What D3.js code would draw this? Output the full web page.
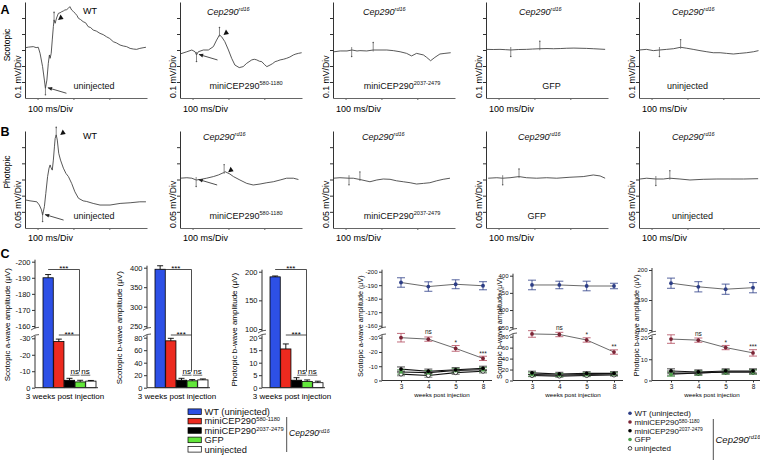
<!DOCTYPE html>
<html>
<head>
<meta charset="utf-8">
<script src="https://cdnjs.cloudflare.com/ajax/libs/d3/7.8.5/d3.min.js"></script>
<style>
  body { margin: 0; background: #fff; }
</style>
</head>
<body>
<svg id="chart"></svg>
<script>
// ---------- ERG traces: [ms, µV] ----------
const scotopicWT = [[-35,14],[-25,18],[-12,21],[-4,15],[2,17],[7,-21],[14,-104],[19,-188],[22,-239],[26,-188],[30,-83],[33,-31],[35,-52],[38,-21],[41,63],[44,146],[46,188],[49,167],[53,200],[58,229],[63,233],[67,239],[72,244],[76,250],[81,252],[86,261],[90,271],[95,250],[100,240],[105,229],[110,215],[114,198],[120,190],[127,177],[134,170],[141,146],[148,140],[155,125],[164,118],[174,104],[183,96],[192,83],[201,72],[211,52],[220,44],[230,31],[239,25],[248,21],[258,10],[267,6],[276,4],[285,10],[294,14],[302,17]];
const scotopic580 = [[-35,-25],[-16,-11],[-2,0],[7,-11],[11,-31],[16,-11],[30,0],[44,0],[58,21],[67,62],[75,94],[81,83],[90,52],[100,0],[109,-52],[118,-94],[130,-110],[141,-104],[151,-83],[165,-62],[172,-58],[179,-62],[186,-70],[193,-73],[200,-90],[207,-104],[216,-94],[223,-85],[230,-73],[237,-68],[244,-62],[253,-58],[262,-52],[271,-44],[281,-31],[288,-25],[295,-21],[304,-17]];
const scotopic2037 = [[-35,-12],[-15,-6],[4,-6],[18,0],[32,-6],[40,-4],[59,-6],[77,0],[96,0],[115,0],[133,-4],[152,-11],[170,-21],[184,-37],[198,-21],[217,-31],[226,-46],[237,-67],[249,-46],[263,-25],[277,-21],[293,-17]];
const scotopicGFP = [[-35,4],[-15,3],[4,4],[20,2],[34,0],[55,3],[78,4],[95,6],[115,8],[135,9],[153,8],[172,9],[190,11],[210,12],[227,11],[245,10],[264,8],[280,6],[297,4]];
const scotopicUninj = [[-35,0],[-14,4],[5,-4],[22,0],[42,4],[61,8],[81,17],[98,11],[116,4],[135,-4],[154,-11],[172,-17],[191,-17],[209,-21],[228,-25],[246,-21],[265,-17],[284,-11],[298,-4]];

const photopicWT = [[-35,-63],[-21,-66],[-2,-69],[5,-79],[11,-94],[14,-110],[19,-84],[23,-43],[28,9],[32,35],[35,45],[37,38],[41,29],[44,60],[47,101],[49,127],[52,138],[55,122],[59,81],[64,60],[72,35],[79,19],[86,9],[95,-12],[104,-38],[114,-58],[127,-66],[137,-68],[155,-74],[174,-79],[202,-79],[230,-74],[258,-72],[285,-69],[302,-69]];
const photopic580 = [[-35,4],[-16,5.5],[-2,4],[10,-1.5],[21,0],[39,4],[58,9],[72,14],[86,21],[91,24],[104,17],[114,9],[132,-1.5],[151,-12],[169,-17],[188,-14],[207,-10],[225,-7],[244,-1.5],[262,4],[281,4],[295,0]];
const photopic2037 = [[-34,4],[-15.5,5.5],[9.6,4],[21.6,4],[40,0],[68,-7],[87,-1.5],[105,1.5],[124,0.6],[142,-4],[161,-7],[180,-10],[198,-14],[217,-12],[235,-10],[254,-4],[272,0.6],[291,4]];
const photopicGFP = [[-29,4],[-5,5.5],[11.5,4],[32,5.5],[57,9],[78,5.5],[106,4],[134,5.5],[162,4],[199,7],[236,9],[264,14],[283,11],[297,4]];
const photopicUninj = [[-32,1.5],[-13.5,4],[12,1.5],[33,1.5],[51,4],[79,1.5],[107,-1.5],[144,0.6],[182,1.5],[219,1.5],[256,1.5],[297,2.5]];

const scotopicTraces = [scotopicWT, scotopic580, scotopic2037, scotopicGFP, scotopicUninj];
const photopicTraces = [photopicWT, photopic580, photopic2037, photopicGFP, photopicUninj];
// a-wave and b-wave marker times (ms)
const scotopicMarks = [[22,46],[11,75],[17,77],[34,115],[22,81]];
const photopicMarks = [[14,52],[10,88],[9.6,40],[11.5,57],[12,51]];
const scotopicTicks = [-200,-100,0,100,200];
const photopicTicks = [-100,-50,0,50,100];
const msTicks = [0,100,200];
const msDomain = [-35,305];

const traceLabels = ['uninjected','miniCEP290','miniCEP290','GFP','uninjected'];
const traceSups = ['','580-1180','2037-2479','',''];
const arrowPanels = [0,1];

// ---------- bar charts (3 weeks) ----------
const groups = ['WT (uninjected)','miniCEP290 580-1180','miniCEP290 2037-2479','GFP','uninjected'];
const groupNames = ['WT (uninjected)','miniCEP290','miniCEP290','GFP','uninjected'];
const groupSups = ['','580-1180','2037-2479','',''];

const barScotA = [-190,-28,-4.5,-3.5,-4];
const barScotAErr = [2,1.5,1.2,1,0.4];
const barScotB = [396,75,12,11,12.5];
const barScotBErr = [9,4,3,2,1.5];
const barPhotB = [191,15.5,3,2.5,2];
const barPhotBErr = [1.5,2,1,0.6,0.6];

const barTicksScotAUp = [-200,-190,-180,-170,-160];
const barTicksScotALo = [-30,-20,-10,0];
const barTicksScotBUp = [400,350,300,250];
const barTicksScotBLo = [80,60,40,20,0];
const barTicksPhotBUp = [200,150,100];
const barTicksPhotBLo = [20,15,10,5,0];

// ---------- time course ----------
const weeks = ['3','4','5','8'];
const lineScotA = [[-192,-189,-190.7,-189.6],[-30,-29,-22.5,-15.5],[-8,-6.5,-7.5,-8.5],[-6,-5.5,-7,-7.5],[-4.5,-3.5,-5.5,-6.5]];
const lineScotAErr = [[3.5,3.5,3.3,3],[3,1.5,2,1.5],[1.5,1.5,1.5,1.5],[1.5,1.5,1.5,1.5],[1.2,1.2,1.2,1.2]];
const lineScotASig = ['','ns','*','***'];
const lineScotB = [[373,373,370,370],[85,84,74,52],[14,12,13,13],[11,10,11,12],[9,8,9,10]];
const lineScotBErr = [[14,11,14,8],[6,4,4,4],[3,3,3,3],[3,3,3,3],[2,2,2,2]];
const lineScotBSig = ['','ns','*','**'];
const linePhotB = [[195.6,194.4,193.6,194.1],[19.5,19,15.5,13],[4.5,4,4.5,4.5],[3,3.5,4,4],[3.5,3.5,4,4]];
const linePhotBErr = [[1.7,1.7,1.7,1.7],[2,1,1,1.5],[1,1,1,1],[1,1,1,1],[1,1,1,1]];
const linePhotBSig = ['','ns','*','***'];

const lineTicksScotAUp = [-200,-190,-180,-170,-160];
const lineTicksScotALo = [-30,-20,-10,0];
const lineTicksScotBUp = [400,350,300,250];
const lineTicksScotBLo = [80,60,40,20,0];
const lineTicksPhotBUp = [200,190,180];
const lineTicksPhotBLo = [20,10,0];

// ---------- styles ----------
const FONT = '"Liberation Sans", Arial, Helvetica, sans-serif';
const barFill = ['#2d50e6','#ec2a1f','#000000','#62e63a','#ffffff'];
const pointFill = ['#2c3d86','#7c2435','#000000','#4da04a','#ffffff'];
const errColor = ['#2c3d86','#b0485a','#222222','#3c8a3c','#555555'];

const svg = d3.select('#chart').attr('width', 760).attr('height', 461).attr('font-family', FONT);

svg.append('defs').append('marker')
  .attr('id', 'arr').attr('viewBox', '0 0 6 6').attr('refX', 5.5).attr('refY', 3)
  .attr('markerWidth', 5).attr('markerHeight', 4.5).attr('markerUnits', 'userSpaceOnUse').attr('orient', 'auto')
  .append('path').attr('d', 'M0,0.5L6,3L0,5.5Z').attr('fill', '#222');

function richText(parent, x, y, base, sup, size, opts = {}) {
  const t = parent.append('text').attr('x', x).attr('y', y).attr('font-size', size).attr('fill', '#111');
  if (opts.anchor) t.attr('text-anchor', opts.anchor);
  if (opts.italic) t.attr('font-style', 'italic');
  t.append('tspan').text(base);
  if (sup) t.append('tspan').attr('dy', -size * (opts.supRise || 0.4)).attr('font-size', size * 0.62).text(sup);
  return t;
}

function valueAt(tr, t) {
  const i = d3.bisector(d => d[0]).left(tr, t);
  if (i <= 0) return tr[0][1];
  if (i >= tr.length) return tr[tr.length - 1][1];
  const a = tr[i - 1], b = tr[i];
  return a[1] + (b[1] - a[1]) * (t - a[0]) / (b[0] - a[0]);
}

// ================= panels A & B =================
const PW = 122;
const traceLefts = [25,180,333,486,639];
const rowSpecs = [
  { traces: scotopicTraces, marks: scotopicMarks, domain: [-300,300], ticks: scotopicTicks, top: 2, bottom: 98,
    ylab: '0.1 mV/Div', side: 'Scotopic', sideY: 45, letter: 'A', letterY: 14, titleY: 15, labelY: 89, msY: 112,
    titleX: [65,27,30,33,33], labelX: [69,66,69,65.5,48.5] },
  { traces: photopicTraces, marks: photopicMarks, domain: [-150,150], ticks: photopicTicks, top: 131, bottom: 228,
    ylab: '0.05 mV/Div', side: 'Photopic', sideY: 172, letter: 'B', letterY: 136, titleY: 140, labelY: 219, msY: 241,
    titleX: [65,23,29,32,33], labelX: [69,66,69,50.7,53.5] }
];

rowSpecs.forEach(row => {
  svg.append('text').attr('x', 0.5).attr('y', row.letterY).attr('font-size', 12.5)
    .attr('font-weight', 'bold').text(row.letter);
  svg.append('text').attr('transform', `translate(10,${row.sideY}) rotate(-90)`)
    .attr('text-anchor', 'middle').attr('font-size', 8.5).text(row.side);

  row.traces.forEach((tr, i) => {
    const left = traceLefts[i];
    const x = d3.scaleLinear().domain(msDomain).range([left, left + PW]);
    const y = d3.scaleLinear().domain(row.domain).range([row.bottom, row.top]);
    const g = svg.append('g');

    g.append('g').attr('transform', `translate(${left},0)`)
      .call(d3.axisLeft(y).tickValues(row.ticks).tickSize(3).tickSizeOuter(0).tickFormat(''))
      .call(s => s.selectAll('path,line').attr('stroke', '#333'));
    g.append('g').attr('transform', `translate(0,${row.bottom})`)
      .call(d3.axisBottom(x).tickValues(msTicks).tickSize(2).tickSizeOuter(0).tickFormat(''))
      .call(s => s.selectAll('path,line').attr('stroke', '#666'));

    g.append('path').datum(tr)
      .attr('fill', 'none').attr('stroke', '#3a3a3a').attr('stroke-width', 0.85)
      .attr('stroke-linejoin', 'round')
      .attr('d', d3.line().x(d => x(d[0])).y(d => y(d[1])));

    // a / b wave markers
    const [ta, tb] = row.marks[i];
    const axp = x(ta), ayp = y(valueAt(tr, ta));
    const bxp = x(tb), byp = y(valueAt(tr, tb));
    g.append('line').attr('x1', axp).attr('x2', axp).attr('y1', ayp - 3).attr('y2', ayp + 6)
      .attr('stroke', '#555').attr('stroke-width', 0.7);
    g.append('circle').attr('cx', axp).attr('cy', ayp + 6.5).attr('r', 0.8).attr('fill', '#555');
    g.append('line').attr('x1', bxp).attr('x2', bxp).attr('y1', byp - 7).attr('y2', byp + 1.5)
      .attr('stroke', '#555').attr('stroke-width', 0.7);
    g.append('circle').attr('cx', bxp).attr('cy', byp - 7.5).attr('r', 0.8).attr('fill', '#555');

    if (arrowPanels.includes(i)) {
      g.append('line').attr('x1', axp + 21).attr('y1', ayp + 5).attr('x2', axp + 2.5).attr('y2', ayp - 0.5)
        .attr('stroke', '#222').attr('stroke-width', 0.8).attr('marker-end', 'url(#arr)');
      g.append('path').attr('d', 'M0,0L5.5,-1L2.5,-5.5Z').attr('fill', '#111')
        .attr('transform', `translate(${bxp + 4},${byp})`);
    }

    if (i === 0) {
      g.append('text').attr('x', left + row.titleX[0]).attr('y', row.titleY - 1.5)
        .attr('text-anchor', 'middle').attr('font-size', 9).text('WT');
    } else {
      richText(g, left + row.titleX[i], row.titleY, 'Cep290', 'rd16', 9, { italic: true });
    }
    richText(g, left + row.labelX[i], row.labelY, traceLabels[i], traceSups[i], 9, { anchor: 'middle' });
    g.append('text').attr('x', left + 3).attr('y', row.msY).attr('font-size', 9).text('100 ms/Div');
    g.append('text').attr('transform', `translate(${left - 4.5},${row.bottom}) rotate(-90)`)
      .attr('font-size', 8.7).text(row.ylab);
  });
});

// ================= panel C helpers =================
function brokenScale(up, lo, upRange, loRange) {
  const u = d3.scaleLinear().domain([up[up.length - 1], up[0]]).range(upRange);
  const l = d3.scaleLinear().domain([lo[lo.length - 1], lo[0]]).range(loRange);
  const lim = Math.abs(up[up.length - 1]);
  const f = v => Math.abs(v) >= lim ? u(v) : l(v);
  f.upper = u; f.lower = l;
  return f;
}

function drawBrokenAxis(g, f, up, lo, ax, fs) {
  const [ub, ut] = f.upper.range();
  const [lb, lt] = f.lower.range();
  [[f.upper, up], [f.lower, lo]].forEach(([sc, tv]) => {
    const a = g.append('g').attr('transform', `translate(${ax},0)`)
      .call(d3.axisLeft(sc).tickValues(tv).tickSize(3).tickPadding(1.5).tickFormat(d => String(d)));
    a.select('.domain').remove();
    a.attr('font-family', FONT).attr('font-size', fs);
    a.selectAll('line').attr('stroke', '#333');
    a.selectAll('text').attr('fill', '#111');
  });
  g.append('line').attr('x1', ax).attr('x2', ax).attr('y1', ut - 2).attr('y2', ub + 2.5).attr('stroke', '#333');
  g.append('line').attr('x1', ax).attr('x2', ax).attr('y1', lt - 2.5).attr('y2', lb).attr('stroke', '#333');
  [ub + 2.5, lt - 2.5].forEach(yy => {
    g.append('path').attr('d', `M${ax - 4},${yy + 1.5}Q${ax},${yy - 1.5} ${ax + 4},${yy - 1.2}`)
      .attr('fill', 'none').attr('stroke', '#333').attr('stroke-width', 0.8);
  });
}

svg.append('text').attr('x', 0.5).attr('y', 258).attr('font-size', 12.5).attr('font-weight', 'bold').text('C');

// ================= bar charts =================
const sigTopY = 269.5, sigMidY = 335;
const barSpecs = [
  { vals: barScotA, errs: barScotAErr, up: barTicksScotAUp, lo: barTicksScotALo, ax: 35,
    upRange: [326,261.7], loRange: [387.7,338.3], label: 'Scotopic a-wave amplitude (μV)' },
  { vals: barScotB, errs: barScotBErr, up: barTicksScotBUp, lo: barTicksScotBLo, ax: 147,
    upRange: [326.2,267.7], loRange: [387.7,337.7], label: 'Scotopic b-wave amplitude (μV)' },
  { vals: barPhotB, errs: barPhotBErr, up: barTicksPhotBUp, lo: barTicksPhotBLo, ax: 262,
    upRange: [329,271.7], loRange: [387.7,337.7], label: 'Photopic b-wave amplitude (μV)' }
];

barSpecs.forEach(spec => {
  const g = svg.append('g');
  const yb = brokenScale(spec.up, spec.lo, spec.upRange, spec.loRange);
  const xb = d3.scaleBand().domain(groups).range([spec.ax + 8, spec.ax + 61]).paddingInner(0.04);
  const y0 = yb(0);
  const cx = i => xb(groups[i]) + xb.bandwidth() / 2;

  g.selectAll('rect').data(spec.vals).join('rect')
    .attr('x', (d, i) => xb(groups[i])).attr('width', xb.bandwidth())
    .attr('y', d => Math.min(yb(d), y0)).attr('height', d => Math.abs(y0 - yb(d)))
    .attr('fill', (d, i) => barFill[i]).attr('stroke', '#000').attr('stroke-width', 0.8);

  spec.vals.forEach((v, i) => {
    const tip = v + Math.sign(v) * spec.errs[i];
    g.append('line').attr('x1', cx(i)).attr('x2', cx(i)).attr('y1', yb(v)).attr('y2', yb(tip))
      .attr('stroke', '#000').attr('stroke-width', 0.9);
    g.append('line').attr('x1', cx(i) - 3).attr('x2', cx(i) + 3).attr('y1', yb(tip)).attr('y2', yb(tip))
      .attr('stroke', '#000').attr('stroke-width', 0.9);
  });

  drawBrokenAxis(g, yb, spec.up, spec.lo, spec.ax, 7.5);
  g.append('line').attr('x1', spec.ax).attr('x2', spec.ax + 63).attr('y1', y0).attr('y2', y0).attr('stroke', '#333');

  // significance
  const vx = spec.ax + 44.5;
  g.append('path').attr('d', `M${cx(0)},${sigTopY}H${vx}V${y0 - 16}`)
    .attr('fill', 'none').attr('stroke', '#222').attr('stroke-width', 0.8);
  g.append('path').attr('d', `M${cx(1)},${sigMidY}H${vx}`)
    .attr('fill', 'none').attr('stroke', '#222').attr('stroke-width', 0.8);
  g.append('text').attr('x', (cx(0) + vx) / 2).attr('y', sigTopY + 1.5).attr('text-anchor', 'middle')
    .attr('font-size', 8).text('***');
  g.append('text').attr('x', (cx(1) + vx) / 2).attr('y', sigMidY + 1.5).attr('text-anchor', 'middle')
    .attr('font-size', 8).text('***');
  [[2, 3], [3, 4]].forEach(([a, b]) => {
    g.append('text').attr('x', (cx(a) + cx(b)) / 2).attr('y', y0 - 14).attr('text-anchor', 'middle')
      .attr('font-size', 8).text('ns');
    g.append('line').attr('x1', cx(a) + 0.6).attr('x2', cx(b) - 0.6).attr('y1', y0 - 12.5).attr('y2', y0 - 12.5)
      .attr('stroke', '#222').attr('stroke-width', 0.7);
  });

  g.append('text').attr('x', spec.ax + 30).attr('y', 399).attr('text-anchor', 'middle')
    .attr('font-size', 8).text('3 weeks post injection');
  g.append('text').attr('transform', `translate(${spec.ax - 25},${(spec.upRange[1] + spec.loRange[0]) / 2}) rotate(-90)`)
    .attr('text-anchor', 'middle').attr('font-size', 8).text(spec.label);
});

// ================= time-course charts =================
const lineSpecs = [
  { vals: lineScotA, errs: lineScotAErr, sig: lineScotASig, up: lineTicksScotAUp, lo: lineTicksScotALo, ax: 382,
    upRange: [325.7,271.7], loRange: [380.5,337.7], label: 'Scotopic a-wave amplitude (μV)', labelDx: -19 },
  { vals: lineScotB, errs: lineScotBErr, sig: lineScotBSig, up: lineTicksScotBUp, lo: lineTicksScotBLo, ax: 513,
    upRange: [327.2,275.7], loRange: [380.5,336.7], label: 'Scotopic b-wave amplitude (μV)', labelDx: -11 },
  { vals: linePhotB, errs: linePhotBErr, sig: linePhotBSig, up: lineTicksPhotBUp, lo: lineTicksPhotBLo, ax: 652,
    upRange: [330,270], loRange: [380.5,338], label: 'Photopic b-wave amplitude (μV)', labelDx: -13 }
];

lineSpecs.forEach(spec => {
  const g = svg.append('g');
  const yl = brokenScale(spec.up, spec.lo, spec.upRange, spec.loRange);
  const xp = d3.scalePoint().domain(weeks).range([spec.ax + 19, spec.ax + 101]);
  const y0 = yl(0);

  drawBrokenAxis(g, yl, spec.up, spec.lo, spec.ax, 6);
  g.append('g').attr('transform', `translate(0,${y0})`)
    .call(d3.axisBottom(xp).tickSize(2).tickSizeOuter(0).tickPadding(2))
    .call(s => {
      s.select('.domain').remove();
      s.attr('font-family', FONT).attr('font-size', 6.5);
      s.selectAll('line').attr('stroke', '#333');
      s.selectAll('text').attr('fill', '#111');
    });
  g.append('line').attr('x1', spec.ax).attr('x2', spec.ax + 110).attr('y1', y0).attr('y2', y0).attr('stroke', '#333');

  const order = [4, 3, 2, 1, 0];
  order.forEach(s => {
    g.append('path').datum(spec.vals[s])
      .attr('fill', 'none').attr('stroke', s >= 2 ? '#111' : '#444').attr('stroke-width', s >= 2 ? 1.1 : 0.8)
      .attr('d', d3.line().x((d, j) => xp(weeks[j])).y(d => yl(d)));
  });
  order.forEach(s => {
    spec.vals[s].forEach((v, j) => {
      const px = xp(weeks[j]), e = spec.errs[s][j];
      const y1 = yl(v - e), y2 = yl(v + e);
      g.append('path').attr('d', `M${px},${y1}V${y2}M${px - 4},${y1}H${px + 4}M${px - 4},${y2}H${px + 4}`)
        .attr('fill', 'none').attr('stroke', errColor[s]).attr('stroke-width', 0.8);
    });
  });
  order.forEach(s => {
    g.selectAll(null).data(spec.vals[s]).join('circle')
      .attr('cx', (d, j) => xp(weeks[j])).attr('cy', d => yl(d)).attr('r', s === 4 ? 2 : 1.9)
      .attr('fill', pointFill[s]).attr('stroke', s === 4 ? '#000' : 'none').attr('stroke-width', 0.7);
  });
  spec.vals[1].forEach((v, j) => {
    if (!spec.sig[j]) return;
    const tip = v + Math.sign(v) * spec.errs[1][j];
    g.append('text').attr('x', xp(weeks[j])).attr('y', yl(tip) - (spec.sig[j] === 'ns' ? 2.5 : 0.5))
      .attr('text-anchor', 'middle').attr('font-size', 6.5).attr('fill', '#222').text(spec.sig[j]);
  });

  g.append('text').attr('x', spec.ax + 60).attr('y', 396.5).attr('text-anchor', 'middle')
    .attr('font-size', 6.2).text('weeks post injection');
  g.append('text').attr('transform', `translate(${spec.ax + spec.labelDx},${(spec.upRange[1] + spec.loRange[0]) / 2}) rotate(-90)`)
    .attr('text-anchor', 'middle').attr('font-size', 7.2).text(spec.label);
});

// ================= legends =================
groups.forEach((gname, i) => {
  const cy = 411.7 + i * 9.4;
  svg.append('rect').attr('x', 188).attr('y', cy - 2.8).attr('width', 13.3).attr('height', 5.6)
    .attr('fill', barFill[i]).attr('stroke', '#000').attr('stroke-width', 0.7);
  richText(svg, 204.5, cy + 3.3, groupNames[i], groupSups[i], 9.3, { supRise: 0.32 });
});
svg.append('line').attr('x1', 286.7).attr('x2', 286.7).attr('y1', 417).attr('y2', 452).attr('stroke', '#222').attr('stroke-width', 0.8);
richText(svg, 289, 436, 'Cep290', 'rd16', 8.6, { italic: true });

groups.forEach((gname, i) => {
  const cy = 413.3 + i * 8.75;
  svg.append('circle').attr('cx', 630).attr('cy', cy).attr('r', 1.8)
    .attr('fill', pointFill[i]).attr('stroke', i === 4 ? '#000' : 'none').attr('stroke-width', 0.7);
  richText(svg, 634.5, cy + 2.9, groupNames[i], groupSups[i], 8, { supRise: 0.3 });
});
svg.append('line').attr('x1', 713.3).attr('x2', 713.3).attr('y1', 419).attr('y2', 460).attr('stroke', '#222').attr('stroke-width', 0.8);
richText(svg, 715.5, 443, 'Cep290', 'rd16', 9.5, { italic: true });
</script>
</body>
</html>
